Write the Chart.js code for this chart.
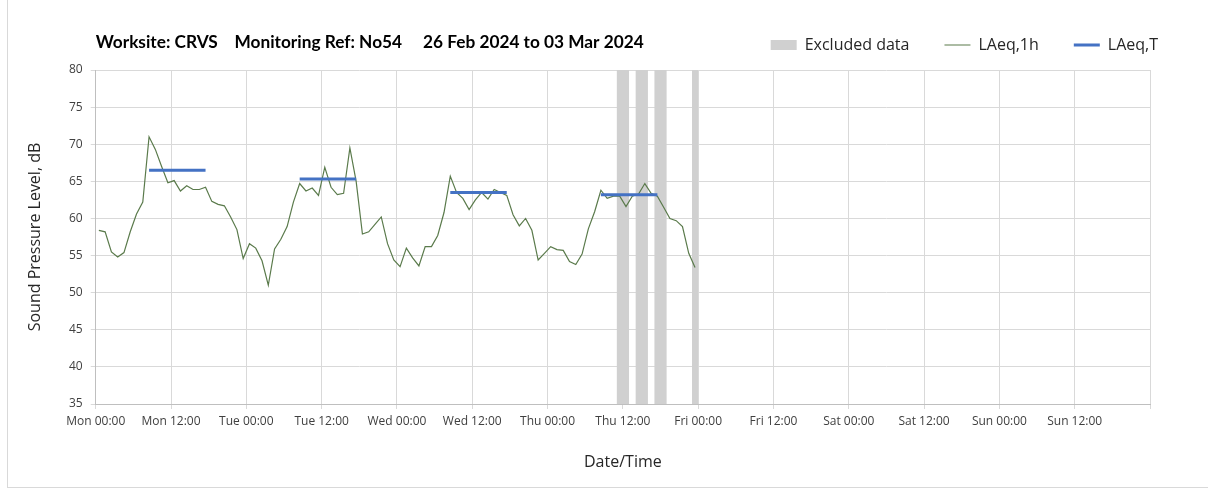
<!DOCTYPE html>
<html><head><meta charset="utf-8">
<script src="https://cdn.jsdelivr.net/npm/chart.js@4.4.1/dist/chart.umd.min.js"></script>
<style>
html,body{margin:0;padding:0;background:#fff;}
#wrap{position:relative;width:1208px;height:494px;overflow:hidden;}
#frame{position:absolute;left:7px;top:-1px;width:1300px;height:489px;border-left:1px solid #d9d9d9;border-bottom:1px solid #d9d9d9;box-sizing:border-box;}
canvas{position:absolute;left:0;top:0;}
</style></head><body>
<div id="wrap"><div id="frame"></div><canvas id="c" width="1208" height="494"></canvas></div>
<script>
// x values are hours from Mon 00:00
const tickLabels = ['Mon 00:00','Mon 12:00','Tue 00:00','Tue 12:00','Wed 00:00','Wed 12:00','Thu 00:00','Thu 12:00','Fri 00:00','Fri 12:00','Sat 00:00','Sat 12:00','Sun 00:00','Sun 12:00',''];
const hourlyTimes = [
  0.5,1.5,2.5,3.5,4.5,5.5,6.5,7.5,8.5,9.5,10.5,11.5,12.5,13.5,14.5,15.5,16.5,17.5,18.5,19.5,20.5,21.5,22.5,23.5,
  24.5,25.5,26.5,27.5,28.5,29.5,30.5,31.5,32.5,33.5,34.5,35.5,36.5,37.5,38.5,39.5,40.5,41.5,42.5,43.5,44.5,45.5,46.5,47.5,
  48.5,49.5,50.5,51.5,52.5,53.5,54.5,55.5,56.5,57.5,58.5,59.5,60.5,61.5,62.5,63.5,64.5,65.5,66.5,67.5,68.5,69.5,70.5,71.5,
  72.5,73.5,74.5,75.5,76.5,77.5,78.5,79.5,80.5,81.5,82.5,83.5,84.5,85.5,86.5,87.5,88.5,89.5,90.5,91.5,92.5,93.5,94.5,95.5
];
const laeq1h = [
  58.4,58.2,55.5,54.8,55.4,58.2,60.6,62.2,71.0,69.3,67.0,64.8,65.1,63.7,64.4,63.9,63.9,64.2,62.3,61.9,61.7,60.2,58.5,54.6,
  56.6,56.0,54.3,51.0,55.9,57.2,58.9,62.2,64.7,63.7,64.1,63.1,66.9,64.2,63.2,63.4,69.5,65.0,57.9,58.2,59.2,60.2,56.6,54.4,
  53.5,56.0,54.7,53.6,56.2,56.2,57.7,60.8,65.7,63.5,62.7,61.2,62.5,63.5,62.6,63.9,63.5,63.1,60.5,59.0,60.0,58.4,54.4,55.3,
  56.2,55.8,55.7,54.2,53.8,55.2,58.6,60.9,63.8,62.7,63.0,63.0,61.6,63.0,63.3,64.7,63.4,63.0,61.5,60.0,59.7,58.9,55.3,53.4
];
const periodStart = [8.5, 32.5, 56.5, 80.5];
const periodEnd = [17.5, 41.5, 65.5, 89.5];
const laeqT = [66.5, 65.3, 63.5, 63.2];
const excludedStart = [83, 86, 89, 95];
const excludedEnd = [85, 88, 91, 96];
const yMin = 35, yMax = 80;
const titleText = 'Worksite: CRVS    Monitoring Ref: No54     26 Feb 2024 to 03 Mar 2024';

const hourlyPoints = laeq1h.map((v, i) => ({x: hourlyTimes[i], y: v}));
const tPoints = [];
laeqT.forEach((v, i) => {
  tPoints.push({x: periodStart[i], y: v}, {x: periodEnd[i], y: v}, {x: periodEnd[i], y: null});
});
const exPoints = [];
excludedStart.forEach((s, i) => {
  exPoints.push({x: s, y: yMax}, {x: excludedEnd[i], y: yMax}, {x: excludedEnd[i], y: null});
});

const FONT = "'Open Sans', 'DejaVu Sans', sans-serif";
const gridColor = '#d9d9d9';

new Chart(document.getElementById('c'), {
  type: 'line',
  data: {
    datasets: [
      {label: 'Excluded data', data: exPoints, order: 2, fill: 'start', backgroundColor: '#d0d0d0',
       borderColor: 'rgba(0,0,0,0)', borderWidth: 0, pointRadius: 0, pointHoverRadius: 0, pointStyle: 'rect', spanGaps: false},
      {label: 'LAeq,1h', data: hourlyPoints, order: 1, borderColor: '#5a7a4b', backgroundColor: '#5a7a4b',
       borderWidth: 1.2, pointRadius: 0, pointHoverRadius: 0, pointStyle: 'line', tension: 0, fill: false},
      {label: 'LAeq,T', data: tPoints, order: 0, borderColor: '#4472c4', backgroundColor: '#4472c4',
       borderWidth: 3, pointRadius: 0, pointHoverRadius: 0, pointStyle: 'line', spanGaps: false, fill: false}
    ]
  },
  options: {
    responsive: false,
    animation: false,
    devicePixelRatio: 1,
    layout: {padding: {top: 2, left: 25.4, right: 15, bottom: 8}},
    plugins: {
      tooltip: {enabled: false},
      legend: {
        display: true, position: 'top', align: 'end', weight: 3000, reverse: true,
        labels: {usePointStyle: true, pointStyleWidth: 26, boxHeight: 10, padding: 35,
                 font: {family: FONT, size: 16}, color: '#262626'}
      },
      title: {
        display: true, text: titleText, position: 'top', align: 'start', fullSize: false, weight: 2000,
        font: {family: "Lato, 'Open Sans', sans-serif", size: 17.25, weight: 'bold', lineHeight: 1.2},
        color: '#000000', padding: {top: -31.35, bottom: 17.65}
      }
    },
    scales: {
      x: {
        type: 'linear', min: 0, max: 168,
        ticks: {stepSize: 12, autoSkip: false, maxRotation: 0, minRotation: 0, padding: 5,
                font: {family: FONT, size: 12}, color: '#404040',
                callback: (v) => tickLabels[Math.round(v / 12)] ?? ''},
        grid: {color: gridColor, tickLength: 5, drawTicks: true},
        border: {color: '#bfbfbf'},
        title: {display: true, text: 'Date/Time', font: {family: FONT, size: 16}, color: '#262626',
                padding: {top: 19, bottom: 14.4}},
        afterFit: (s) => { s.paddingRight = 58; }
      },
      y: {
        min: yMin, max: yMax,
        ticks: {stepSize: 5, padding: 8, font: {family: FONT, size: 12}, color: '#404040'},
        grid: {color: gridColor, tickLength: 5, drawTicks: true},
        border: {color: '#bfbfbf'},
        title: {display: true, text: 'Sound Pressure Level, dB', font: {family: FONT, size: 16}, color: '#262626',
                padding: {top: 0, bottom: 16.4}}
      }
    }
  }
});
</script>
</body></html>
